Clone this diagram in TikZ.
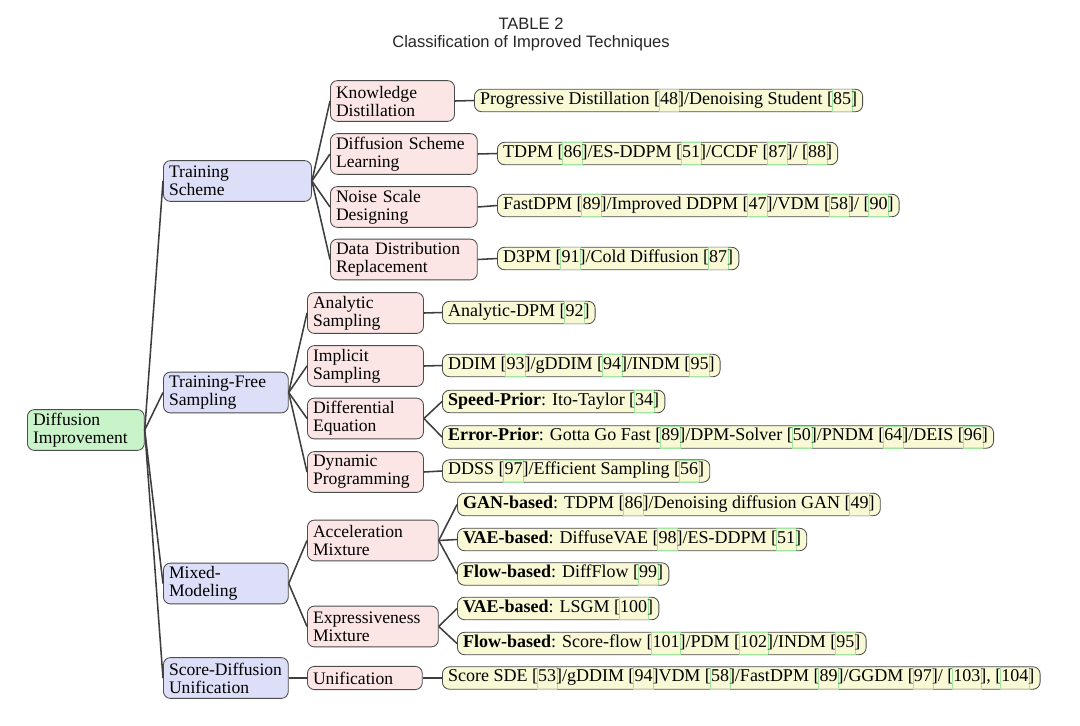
\documentclass[tikz,border=0pt]{standalone}
\usepackage{fontspec}
\setmainfont{Liberation Serif}
\newfontfamily\titlefont{Liberation Sans}
\usepackage{tikz}

\definecolor{rootgreen}{RGB}{201,244,201}
\definecolor{catblue}{RGB}{221,222,248}
\definecolor{subpink}{RGB}{252,229,229}
\definecolor{workyellow}{RGB}{249,249,214}
\definecolor{linegray}{RGB}{62,62,62}
\definecolor{linkgreen}{RGB}{160,230,160}

% green frame round a citation number
\newcommand{\refno}[1]{{\setlength{\fboxsep}{0.5pt}\setlength{\fboxrule}{0.4pt}\kern-0.9pt\textcolor{linkgreen}{\fbox{\textcolor{black}{\strut #1}}}\kern-0.9pt}}

\begin{document}
\begin{tikzpicture}[x=0.025cm, y=-0.025cm,
        box/.style={draw=black!70, line width=0.6pt, rounded corners=5pt, anchor=west, align=left,
                    inner xsep=4pt, inner ysep=1pt, minimum height=1.02cm, font=\fontsize{12.5}{12.8}\selectfont},
        rootbox/.style={box, fill=rootgreen, text width=#1},
        catbox/.style={box, fill=catblue, text width=#1},
        subbox/.style={box, fill=subpink, text width=#1},
        workbox/.style={box, fill=workyellow, minimum height=0.56cm, inner ysep=0pt, font=\fontsize{12.8}{14}\selectfont},
        link/.style={draw=linegray, line width=1.1pt}]
    \useasboundingbox (0,0) rectangle (1080,725);

    % Title
    \node[font=\titlefont\fontsize{11.75}{13}\selectfont, text=black!85, align=center] (title) at (531,34.5) {TABLE 2\\Classification of Improved Techniques};

    % Root and categories
    \node[rootbox=2.64cm] (root) at (27,430) {Diffusion\\Improvement};
    \node[catbox=3.42cm] (ts) at (163,181) {Training\\Scheme};
    \node[catbox=2.84cm] (tfs) at (163,392.5) {Training-Free\\Sampling};
    \node[catbox=2.84cm] (mm) at (163,583.5) {Mixed-\\Modeling};
    \node[catbox=2.84cm] (sdu) at (163,678) {Score-Diffusion\\Unification};

    % Training scheme
    \node[subbox=2.82cm] (kd) at (330,101) {Knowledge\\Distillation};
    \node[subbox=3.39cm] (dsl) at (330,154) {Diffusion Scheme\\Learning};
    \node[subbox=3.39cm] (nsd) at (330,207) {Noise Scale\\Designing};
    \node[subbox=3.39cm] (ddr) at (330,259.5) {Data Distribution\\Replacement};
    \node[workbox] (kdw) at (474,100.5) {Progressive Distillation [\refno{48}]/Denoising Student [\refno{85}]};
    \node[workbox] (dslw) at (497,153.5) {TDPM [\refno{86}]/ES-DDPM [\refno{51}]/CCDF [\refno{87}]/ [\refno{88}]};
    \node[workbox] (nsdw) at (497,205.5) {FastDPM [\refno{89}]/Improved DDPM [\refno{47}]/VDM [\refno{58}]/ [\refno{90}]};
    \node[workbox] (ddrw) at (497,258.5) {D3PM [\refno{91}]/Cold Diffusion [\refno{87}]};

    % Training-free sampling
    \node[subbox=2.62cm] (as) at (307,313) {Analytic\\Sampling};
    \node[subbox=2.62cm] (is) at (307,366) {Implicit\\Sampling};
    \node[subbox=2.62cm] (de) at (307,418.5) {Differential\\Equation};
    \node[subbox=2.62cm] (dp) at (307,472) {Dynamic\\Programming};
    \node[workbox] (asw) at (442,312.5) {Analytic-DPM [\refno{92}]};
    \node[workbox] (isw) at (442,365.5) {DDIM [\refno{93}]/gDDIM [\refno{94}]/INDM [\refno{95}]};
    \node[workbox] (dew1) at (442,401.5) {\textbf{Speed-Prior}: Ito-Taylor [\refno{34}]};
    \node[workbox] (dew2) at (442,437) {\textbf{Error-Prior}: Gotta Go Fast [\refno{89}]/DPM-Solver [\refno{50}]/PNDM [\refno{64}]/DEIS [\refno{96}]};
    \node[workbox] (dpw) at (442,471) {DDSS [\refno{97}]/Efficient Sampling [\refno{56}]};

    % Mixed modeling
    \node[subbox=2.99cm] (am) at (307,540.5) {Acceleration\\Mixture};
    \node[subbox=2.99cm] (em) at (307,626.5) {Expressiveness\\Mixture};
    \node[workbox] (amw1) at (457,504.5) {\textbf{GAN-based}: TDPM [\refno{86}]/Denoising diffusion GAN [\refno{49}]};
    \node[workbox] (amw2) at (457,539.5) {\textbf{VAE-based}: DiffuseVAE [\refno{98}]/ES-DDPM [\refno{51}]};
    \node[workbox] (amw3) at (457,574) {\textbf{Flow-based}: DiffFlow [\refno{99}]};
    \node[workbox] (emw1) at (457,608.5) {\textbf{VAE-based}: LSGM [\refno{100}]};
    \node[workbox] (emw2) at (457,643.5) {\textbf{Flow-based}: Score-flow [\refno{101}]/PDM [\refno{102}]/INDM [\refno{95}]};

    % Score-diffusion unification
    \node[subbox=2.59cm, minimum height=0.58cm] (uni) at (307,678) {Unification};
    \node[workbox] (uniw) at (442,678) {Score SDE [\refno{53}]/gDDIM [\refno{94}]VDM [\refno{58}]/FastDPM [\refno{89}]/GGDM [\refno{97}]/ [\refno{103}], [\refno{104}]};

    % Connectors
    \foreach \p/\c in {root/ts, root/tfs, root/mm, root/sdu,
                       ts/kd, ts/dsl, ts/nsd, ts/ddr,
                       kd/kdw, dsl/dslw, nsd/nsdw, ddr/ddrw,
                       tfs/as, tfs/is, tfs/de, tfs/dp,
                       as/asw, is/isw, de/dew1, de/dew2, dp/dpw,
                       mm/am, mm/em, am/amw1, am/amw2, am/amw3, em/emw1, em/emw2,
                       sdu/uni, uni/uniw}
        \draw[link] (\p.east) -- (\c.west);
\end{tikzpicture}
\end{document}
